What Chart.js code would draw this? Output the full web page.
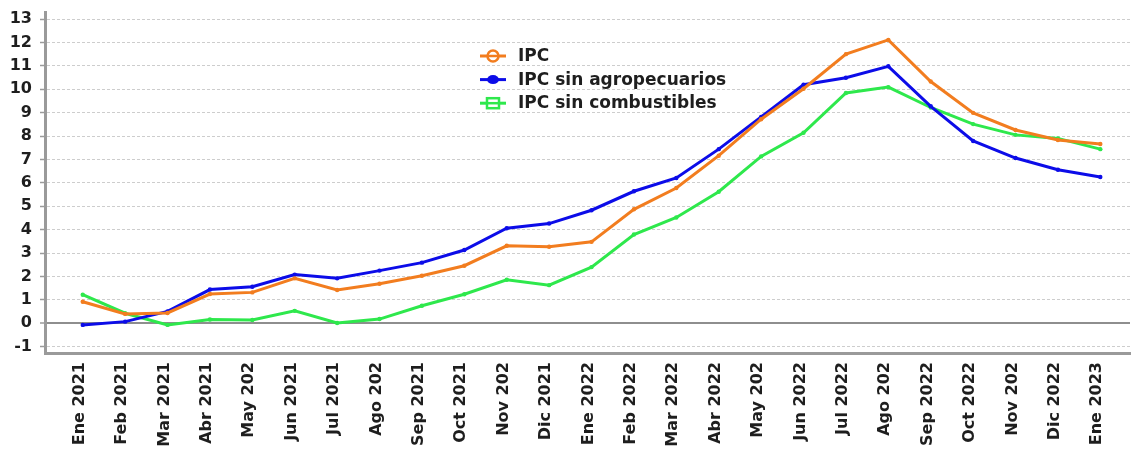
<!DOCTYPE html>
<html>
<head>
<meta charset="utf-8">
<script src="https://cdn.jsdelivr.net/npm/chart.js@4.4.1/dist/chart.umd.min.js"></script>
<style>
  body { margin: 0; background: #fff; }
  #wrap { width: 1133px; height: 454px; }
</style>
</head>
<body>
<div id="wrap"><canvas id="ipcChart" width="1133" height="454"></canvas></div>
<script>
const months = [
  "Ene 2021", "Feb 2021", "Mar 2021", "Abr 2021", "May 202", "Jun 2021",
  "Jul 2021", "Ago 202", "Sep 2021", "Oct 2021", "Nov 202", "Dic 2021",
  "Ene 2022", "Feb 2022", "Mar 2022", "Abr 2022", "May 202", "Jun 2022",
  "Jul 2022", "Ago 202", "Sep 2022", "Oct 2022", "Nov 202", "Dic 2022",
  "Ene 2023"
];
const ipc = [0.92, 0.40, 0.44, 1.25, 1.32, 1.92, 1.42, 1.69, 2.03, 2.46, 3.31, 3.27,
  3.48, 4.87, 5.78, 7.16, 8.72, 10.02, 11.50, 12.11, 10.33, 8.99, 8.26, 7.83, 7.66];
const ipcSinAgro = [-0.07, 0.07, 0.51, 1.44, 1.56, 2.08, 1.92, 2.25, 2.59, 3.13, 4.06, 4.26,
  4.83, 5.64, 6.21, 7.44, 8.82, 10.19, 10.49, 10.98, 9.27, 7.79, 7.06, 6.56, 6.25];
const ipcSinComb = [1.22, 0.43, -0.07, 0.16, 0.14, 0.53, 0.01, 0.18, 0.75, 1.24, 1.86, 1.63,
  2.40, 3.79, 4.52, 5.62, 7.13, 8.14, 9.84, 10.09, 9.22, 8.51, 8.05, 7.90, 7.44];
const seriesNames = ["IPC", "IPC sin agropecuarios", "IPC sin combustibles"];
const yTicks = [-1, 0, 1, 2, 3, 4, 5, 6, 7, 8, 9, 10, 11, 12, 13];

const colors = ["#f27d1f", "#0c0ce8", "#2ee84c"];
const legendMarks = ["circleOpen", "dot", "squareOpen"];
const FONT = "'DejaVu Sans', sans-serif";

const toPoints = arr => arr.map((v, i) => ({ x: i, y: v }));

// legend drawn inside the plot, like the original
const insideLegend = {
  id: "insideLegend",
  afterDraw(chart) {
    const ctx = chart.ctx;
    ctx.save();
    chart.data.datasets.forEach((ds, i) => {
      const cy = 56 + i * 23.6;
      const c = ds.borderColor;
      ctx.strokeStyle = c;
      ctx.fillStyle = c;
      ctx.lineWidth = 3;
      ctx.beginPath();
      ctx.moveTo(480, cy);
      ctx.lineTo(506, cy);
      ctx.stroke();
      ctx.lineWidth = 2.5;
      if (legendMarks[i] === "circleOpen") {
        ctx.fillStyle = "#fff";
        ctx.beginPath();
        ctx.arc(493, cy, 5.5, 0, Math.PI * 2);
        ctx.fill();
        ctx.stroke();
        ctx.beginPath();
        ctx.moveTo(487, cy);
        ctx.lineTo(499, cy);
        ctx.stroke();
      } else if (legendMarks[i] === "dot") {
        ctx.beginPath();
        ctx.ellipse(493, cy, 6, 4.5, 0, 0, Math.PI * 2);
        ctx.fill();
      } else {
        ctx.fillStyle = "#fff";
        ctx.fillRect(487, cy - 5, 12, 10);
        ctx.strokeRect(487, cy - 5, 12, 10);
        ctx.beginPath();
        ctx.moveTo(487, cy);
        ctx.lineTo(499, cy);
        ctx.stroke();
      }
      ctx.fillStyle = "#1e1e1e";
      ctx.font = "bold 17px " + FONT;
      ctx.textAlign = "left";
      ctx.textBaseline = "middle";
      ctx.fillText(ds.label, 518, cy + 0.5);
    });
    ctx.restore();
  }
};

const whiteBg = {
  id: "whiteBg",
  beforeDraw(chart) {
    const ctx = chart.ctx;
    ctx.save();
    ctx.fillStyle = "#fff";
    ctx.fillRect(0, 0, chart.width, chart.height);
    ctx.restore();
  }
};

const makeSet = (i, arr) => ({
  label: seriesNames[i],
  data: toPoints(arr),
  borderColor: colors[i],
  backgroundColor: colors[i],
  borderWidth: 3,
  pointRadius: 2.2,
  pointBorderWidth: 0,
  pointHoverRadius: 3,
  tension: 0
});

new Chart(document.getElementById("ipcChart"), {
  type: "line",
  data: {
    datasets: [makeSet(0, ipc), makeSet(1, ipcSinAgro), makeSet(2, ipcSinComb)]
  },
  options: {
    responsive: false,
    animation: false,
    devicePixelRatio: 1,
    layout: { padding: { top: 12, left: 0, right: 0, bottom: 0 } },
    plugins: {
      legend: { display: false },
      tooltip: { enabled: false }
    },
    scales: {
      x: {
        type: "linear",
        min: -0.89,
        max: 24.7,
        afterBuildTicks: s => { s.ticks = months.map((_, i) => ({ value: i })); },
        afterFit: s => { s.height = 101; },
        grid: { display: true, drawOnChartArea: false, drawTicks: false },
        border: { display: true, color: "#9a9a9a", width: 3 },
        ticks: {
          autoSkip: false,
          minRotation: 90,
          maxRotation: 90,
          padding: 9,
          labelOffset: -3,
          color: "#1e1e1e",
          font: { family: FONT, size: 16, weight: "bold" },
          callback: v => months[v]
        }
      },
      y: {
        min: -1.27,
        max: 13.3,
        afterBuildTicks: s => { s.ticks = yTicks.map(v => ({ value: v })); },
        afterFit: s => { s.width = 45; s.paddingTop = 0; s.paddingBottom = 0; },
        grid: {
          color: c => (c.tick && c.tick.value === 0 ? "#8e8e8e" : "#cdcdcd"),
          lineWidth: c => (c.tick && c.tick.value === 0 ? 2 : 1),
          tickLength: 5,
          tickColor: "#9a9a9a",
          tickWidth: 1.5
        },
        border: {
          display: true,
          color: "#9a9a9a",
          width: 3,
          dash: c => (c.tick && c.tick.value === 0 ? [] : [3, 2])
        },
        ticks: {
          padding: 8,
          color: "#1e1e1e",
          font: { family: FONT, size: 16, weight: "bold" }
        }
      }
    }
  },
  plugins: [whiteBg, insideLegend]
});
</script>
</body>
</html>
